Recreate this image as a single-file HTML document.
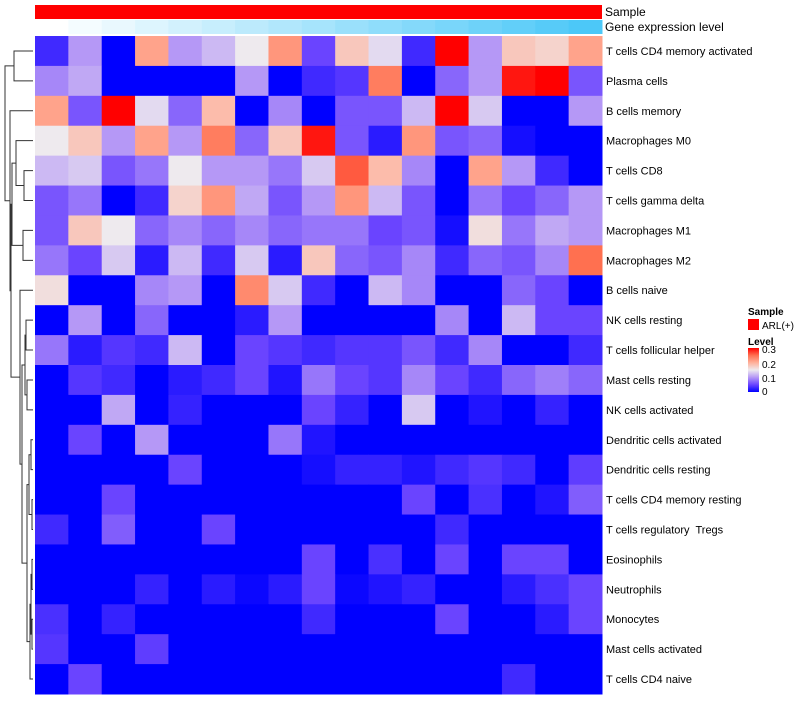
<!DOCTYPE html>
<html><head><meta charset="utf-8"><style>
body{margin:0;background:#fff;font-family:"Liberation Sans",sans-serif;}
svg text{font-family:"Liberation Sans",sans-serif;white-space:pre;}
</style></head><body>
<svg id="chart" width="800" height="700" xmlns="http://www.w3.org/2000/svg">
<g id="cells"></g>
<g id="annot"></g>
<g id="labels"></g>
<g id="dendro" stroke="#333" stroke-width="1" fill="none"></g>
<g id="legend">
  <text x="748" y="315" font-size="10" font-weight="bold">Sample</text>
  <rect x="748" y="319" width="11" height="11" fill="#ff0000"/>
  <text x="762" y="329" font-size="10">ARL(+)</text>
  <text x="748" y="345" font-size="10" font-weight="bold">Level</text>
  <defs><linearGradient id="lg" x1="0" y1="1" x2="0" y2="0">
    <stop offset="0" stop-color="#0000ff"/><stop offset="0.167" stop-color="#6a44ff"/>
    <stop offset="0.333" stop-color="#b598f6"/><stop offset="0.5" stop-color="#eeeaee"/>
    <stop offset="0.667" stop-color="#ffb09a"/><stop offset="0.833" stop-color="#ff7050"/>
    <stop offset="1" stop-color="#ff0000"/></linearGradient></defs>
  <rect x="748" y="348" width="11" height="44" fill="url(#lg)"/>
  <text x="762" y="353" font-size="10">0.3</text>
  <text x="762" y="368" font-size="10">0.2</text>
  <text x="762" y="382" font-size="10">0.1</text>
  <text x="762" y="395" font-size="10">0</text>
</g>
</svg>
<script>
const rowNames = ["T cells CD4 memory activated","Plasma cells","B cells memory","Macrophages M0","T cells CD8","T cells gamma delta","Macrophages M1","Macrophages M2","B cells naive","NK cells resting","T cells follicular helper","Mast cells resting","NK cells activated","Dendritic cells activated","Dendritic cells resting","T cells CD4 memory resting","T cells regulatory  Tregs","Eosinophils","Neutrophils","Monocytes","Mast cells activated","T cells CD4 naive"];
const r0 = [0.03,0.1,0,0.21,0.1,0.12,0.15,0.22,0.05,0.18,0.14,0.03,0.3,0.1,0.18,0.17,0.21];
const r1 = [0.09,0.11,0,0,0,0,0.1,0,0.03,0.04,0.24,0,0.07,0.1,0.29,0.3,0.06];
const r2 = [0.21,0.06,0.3,0.14,0.07,0.19,0,0.09,0,0.06,0.06,0.12,0.3,0.13,0,0,0.1];
const r3 = [0.15,0.18,0.1,0.21,0.1,0.24,0.07,0.18,0.29,0.06,0.02,0.22,0.06,0.07,0.01,0,0];
const r4 = [0.12,0.13,0.06,0.08,0.15,0.1,0.1,0.08,0.13,0.26,0.19,0.09,0,0.21,0.1,0.03,0];
const r5 = [0.06,0.08,0,0.03,0.17,0.22,0.11,0.06,0.1,0.22,0.12,0.06,0,0.08,0.05,0.07,0.1];
const r6 = [0.06,0.18,0.15,0.07,0.09,0.07,0.09,0.07,0.08,0.08,0.05,0.06,0.01,0.16,0.08,0.11,0.1];
const r7 = [0.08,0.05,0.13,0.02,0.12,0.03,0.13,0.02,0.18,0.07,0.06,0.09,0.03,0.07,0.06,0.09,0.25];
const r8 = [0.16,0,0,0.09,0.1,0,0.23,0.13,0.03,0,0.12,0.09,0,0,0.07,0.05,0];
const r9 = [0,0.1,0,0.07,0,0,0.02,0.1,0,0,0,0,0.09,0,0.12,0.05,0.05];
const r10 = [0.08,0.02,0.04,0.03,0.12,0,0.05,0.04,0.03,0.04,0.04,0.06,0.03,0.09,0,0,0.03];
const r11 = [0,0.04,0.03,0,0.02,0.03,0.05,0.015,0.08,0.05,0.04,0.09,0.05,0.03,0.07,0.085,0.07];
const r12 = [0,0,0.11,0,0.025,0,0,0,0.05,0.025,0,0.13,0,0.015,0,0.025,0];
const r13 = [0,0.05,0,0.1,0,0,0,0.08,0.015,0,0,0,0,0,0,0,0];
const r14 = [0,0,0,0,0.05,0,0,0,0.01,0.025,0.025,0.015,0.03,0.04,0.03,0,0.045];
const r15 = [0,0,0.05,0,0,0,0,0,0,0,0,0.05,0,0.035,0,0.015,0.065];
const r16 = [0.03,0,0.065,0,0,0.05,0,0,0,0,0,0,0.03,0,0,0,0];
const r17 = [0,0,0,0,0,0,0,0,0.05,0,0.035,0,0.05,0,0.05,0.05,0];
const r18 = [0,0,0,0.025,0,0.02,0.005,0.02,0.05,0.005,0.015,0.025,0,0,0.02,0.035,0.05];
const r19 = [0.035,0,0.025,0,0,0,0,0,0.03,0,0,0,0.05,0,0,0.02,0.05];
const r20 = [0.04,0,0,0.045,0,0,0,0,0,0,0,0,0,0,0,0,0];
const r21 = [0,0.05,0,0,0,0,0,0,0,0,0,0,0,0,0.03,0,0];
const values = [r0,r1,r2,r3,r4,r5,r6,r7,r8,r9,r10,r11,r12,r13,r14,r15,r16,r17,r18,r19,r20,r21];
const nCols = 17;

const NS="http://www.w3.org/2000/svg";
const X0=35,X1=602,Y0=36,Y1=694;
const cw=(X1-X0)/nCols, rh=(Y1-Y0)/rowNames.length;
const xPos=c=>X0+c*cw, yPos=r=>Y0+r*rh;
const stops=[[0,[0,0,255]],[0.05,[106,68,255]],[0.1,[181,152,246]],[0.15,[238,234,238]],[0.2,[255,176,154]],[0.25,[255,112,80]],[0.3,[255,0,0]]];
function col(v){v=Math.max(0,Math.min(0.3,v));for(let i=1;i<stops.length;i++){if(v<=stops[i][0]){const a=stops[i-1],b=stops[i],t=(v-a[0])/(b[0]-a[0]);return 'rgb('+a[1].map((x,k)=>Math.round(x+(b[1][k]-x)*t)).join(',')+')';}}return 'rgb(255,0,0)';}
function mk(t,attrs,parent){const e=document.createElementNS(NS,t);for(const k in attrs)e.setAttribute(k,attrs[k]);parent.appendChild(e);return e;}
const cells=document.getElementById('cells');
values.forEach((row,r)=>row.forEach((v,c)=>{
  const e=mk('rect',{x:xPos(c),y:yPos(r),width:cw+0.5,height:rh+0.5,fill:col(v)},cells);
  
  
}));
const annot=document.getElementById('annot');
const sb=mk('rect',{x:X0,y:5,width:X1-X0,height:14,fill:'#ff0000'},annot);


for(let c=0;c<nCols;c++){const t=c/(nCols-1);
  const g=mk('rect',{x:xPos(c),y:20,width:cw+0.5,height:14,fill:`rgb(${Math.round(255-179*t)},${Math.round(255-55*t)},${Math.round(255-7*t)})`},annot);
  
  }
const t1=mk('text',{x:605,y:16,'font-size':12},annot);t1.textContent='Sample';


const t2=mk('text',{x:605,y:31,'font-size':12},annot);t2.textContent='Gene expression level';


const labels=document.getElementById('labels');
rowNames.forEach((n,r)=>{const t=mk('text',{x:606,y:yPos(r)+rh/2+4,'font-size':11},labels);t.textContent=n;
  
  });
// dendrogram
const merges=[[0,1,14],[4,5,24],[3,23,16],[6,7,23],[24,25,12],[9,10,26],[11,12,27],[27,28,25],[13,14,31],[15,16,32],[30,31,29],[17,18,32],[19,20,32],[33,34,31],[35,21,30],[32,36,27],[29,37,22],[8,38,20],[26,39,11],[2,40,10],[22,41,5]];
const pos={};for(let i=0;i<22;i++)pos[i]=[33,yPos(i)+rh/2];
const d=document.getElementById('dendro');
merges.forEach((m,i)=>{const a=pos[m[0]],b=pos[m[1]],x=m[2];
  const p=mk('path',{d:`M${a[0]},${a[1]}H${x}V${b[1]}H${b[0]}`},d);
  
  
  pos[22+i]=[x,(a[1]+b[1])/2];});
</script>
</body></html>
